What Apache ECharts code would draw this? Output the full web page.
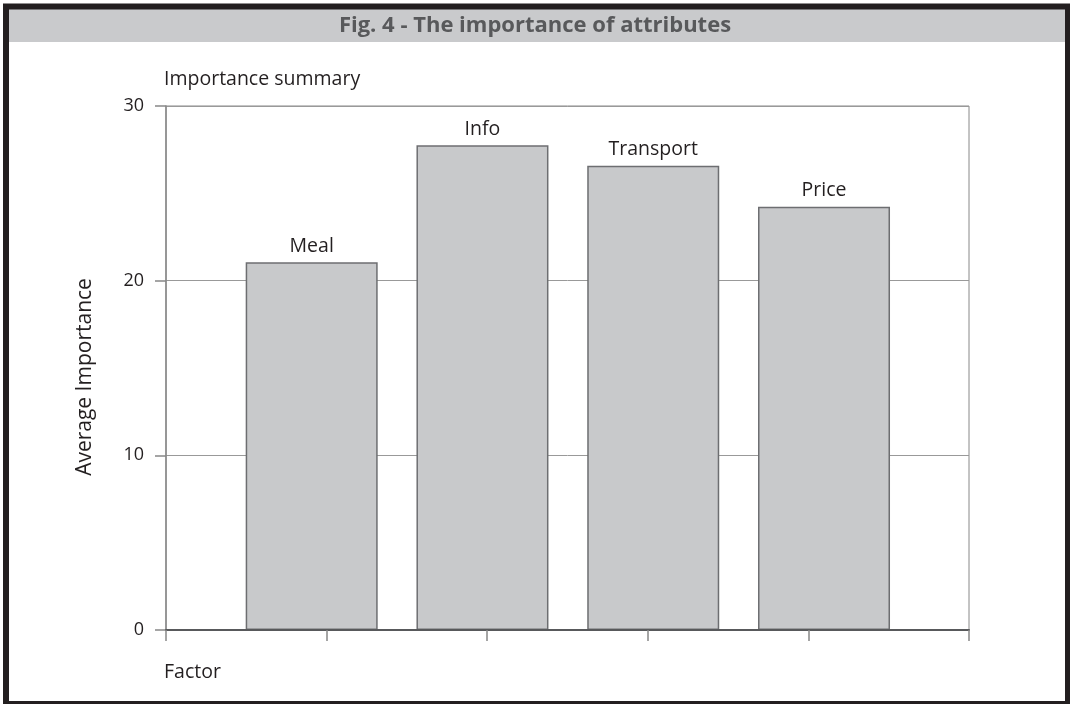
<!DOCTYPE html>
<html>
<head>
<meta charset="utf-8">
<script src="https://cdn.jsdelivr.net/npm/echarts@6/dist/echarts.min.js"></script>
<style>
html,body{margin:0;padding:0;background:#fff;}
#c{width:1070px;height:704px;}
</style>
</head>
<body>
<div id="c"></div>
<script>
const titleText = 'Fig. 4 - The importance of attributes';
const categories = ['Meal', 'Info', 'Transport', 'Price'];
const values = [21.05, 27.76, 26.58, 24.23];
const yMin = 0, yMax = 30, yStep = 10;
const yAxisTitle = 'Average Importance';
const xAxisTitle = 'Factor';
const chartSubtitle = 'Importance summary';

const FONT = '"Open Sans", "Noto Sans", sans-serif';
const TITLE_FONT = '"Open Sans", sans-serif';

const chart = echarts.init(document.getElementById('c'), null, {renderer: 'canvas'});
chart.setOption({
  backgroundColor: '#fff',
  animation: false,
  graphic: [
    {type: 'rect', z: 0, shape: {x: 9, y: 9, width: 1056, height: 33}, style: {fill: '#c9cacc'}},
    {type: 'rect', z: 10, shape: {x: 6, y: 6.5, width: 1062, height: 697.5}, style: {fill: 'none', stroke: '#231f20', lineWidth: 6}},
    {type: 'text', z: 10, x: 535, y: 26, style: {text: titleText, align: 'center', verticalAlign: 'middle', fill: '#58595b', font: 'bold 22px ' + TITLE_FONT}},
    {type: 'text', z: 10, x: 164, y: 79, style: {text: chartSubtitle, align: 'left', verticalAlign: 'middle', fill: '#231f20', font: '19.5px ' + FONT}},
    {type: 'text', z: 10, x: 164, y: 672, style: {text: xAxisTitle, align: 'left', verticalAlign: 'middle', fill: '#231f20', font: '19.5px ' + FONT}}
  ],
  grid: [
    {left: 166, right: 101, top: 106, bottom: 74, show: true, borderColor: '#888', borderWidth: 1, backgroundColor: 'transparent'},
    {left: 226.3, right: 160.6, top: 106, bottom: 74}
  ],
  xAxis: [
    {type: 'value', gridIndex: 0, min: 0, max: 5, interval: 1, z: 5,
      axisLine: {show: true, lineStyle: {color: '#58595b', width: 2}},
      axisTick: {show: true, length: 11, lineStyle: {color: '#888', width: 1.5}},
      axisLabel: {show: false}, splitLine: {show: false}},
    {type: 'category', gridIndex: 1, data: categories,
      axisLine: {show: false}, axisTick: {show: false}, axisLabel: {show: false}, splitLine: {show: false}}
  ],
  yAxis: [
    {type: 'value', gridIndex: 0, min: yMin, max: yMax, interval: yStep,
      name: yAxisTitle, nameLocation: 'middle', nameGap: 70,
      nameTextStyle: {fontSize: 21, color: '#231f20', fontFamily: FONT, padding: [0, 0, 0, -18]},
      axisLine: {show: true, lineStyle: {color: '#888', width: 1.5}},
      axisTick: {show: true, length: 11, lineStyle: {color: '#888', width: 1.5}},
      axisLabel: {show: true, margin: 22, fontSize: 18, color: '#231f20', fontFamily: FONT},
      splitLine: {show: true, lineStyle: {color: '#999', width: 1}}},
    {type: 'value', gridIndex: 1, min: yMin, max: yMax, interval: yStep, show: false,
      splitLine: {show: false}}
  ],
  series: [{
    type: 'bar', xAxisIndex: 1, yAxisIndex: 1, data: values, barWidth: 132, z: 3,
    itemStyle: {color: '#c8c9cb', borderColor: '#6d6e71', borderWidth: 1.5},
    label: {show: true, position: 'top', distance: 6, formatter: '{b}', fontSize: 19.5, color: '#231f20', fontFamily: FONT}
  }]
});
</script>
</body>
</html>
